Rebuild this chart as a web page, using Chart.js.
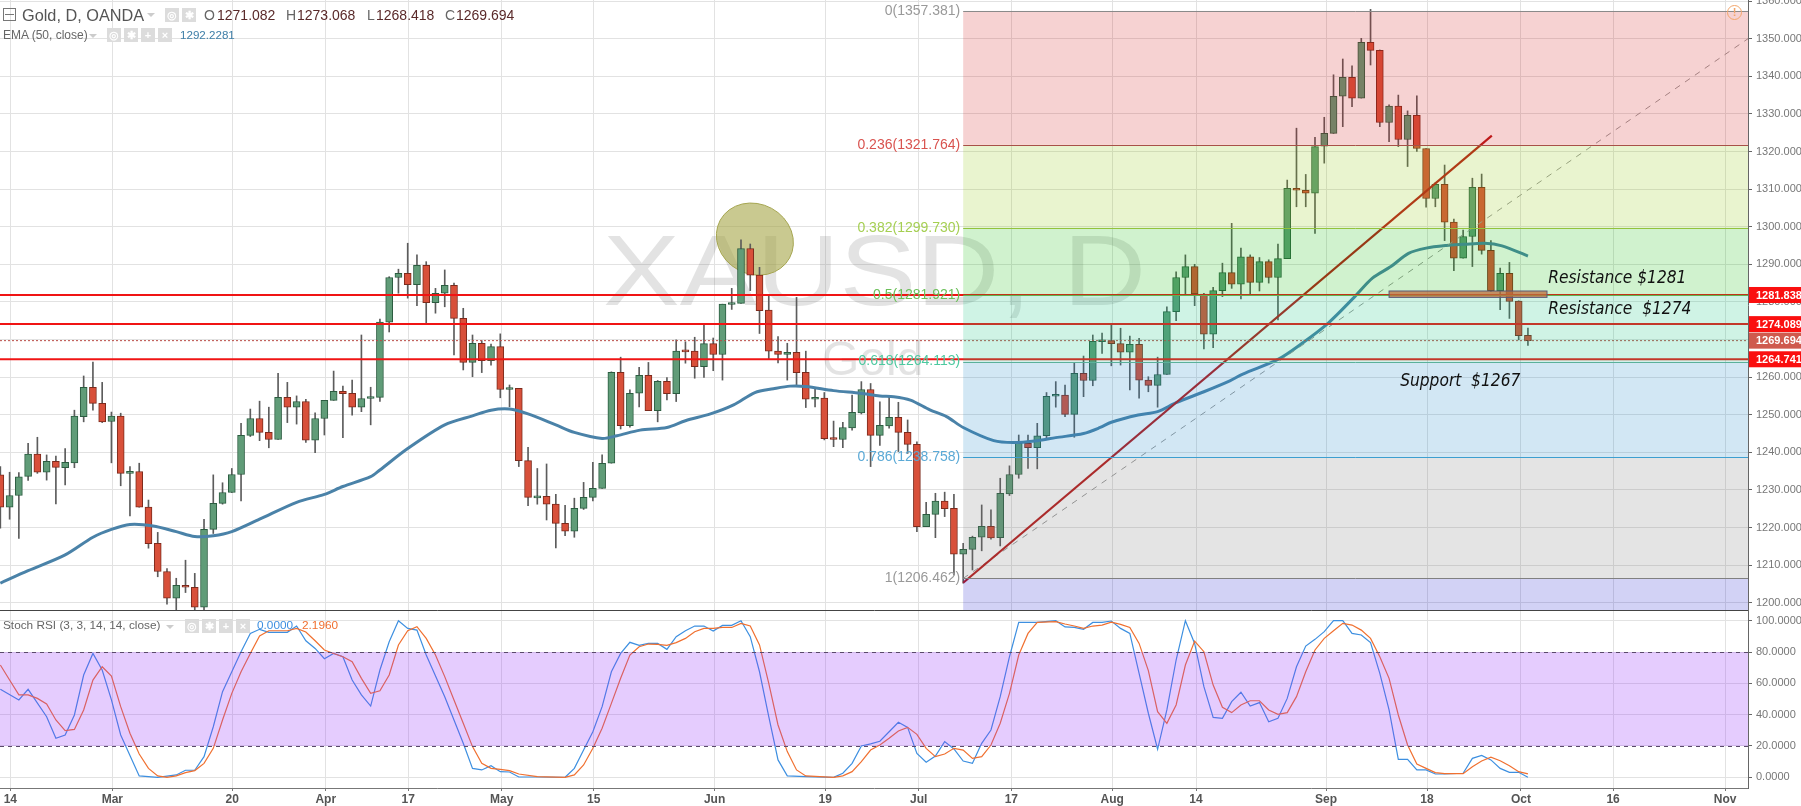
<!DOCTYPE html>
<html>
<head>
<meta charset="utf-8">
<title>Gold, D, OANDA</title>
<script src="https://cdn.jsdelivr.net/npm/chart.js@4"></script>
<style>
  body { margin: 0; background: #fff; width: 1801px; height: 806px; overflow: hidden; position: relative; font-family: "Liberation Sans", Arial, sans-serif; }
  canvas { position: absolute; left: 0; }
  #priceChart { top: 0; }
  #stochChart { top: 611px; }
  .t { position: absolute; white-space: nowrap; line-height: 1; }
  .ic { position: absolute; width: 14px; height: 14px; background: #dcdcdc; color: #fff; font-size: 11px; line-height: 14px; text-align: center; font-weight: bold; }
  .tri { position: absolute; width: 0; height: 0; border-left: 4px solid transparent; border-right: 4px solid transparent; border-top: 4px solid #ccc; }
</style>
</head>
<body>
<canvas id="priceChart" width="1801" height="611"></canvas>
<canvas id="stochChart" width="1801" height="195"></canvas>

<div class="t" style="left:3px;top:8px;width:11px;height:11px;border:1px solid #777;"></div>
<div class="t" style="left:5px;top:14px;width:9px;height:1px;background:#777;"></div>
<div class="t" style="left:22px;top:7px;font-size:16.3px;color:#555;">Gold, D, OANDA</div>
<div class="tri" style="left:147px;top:13px;"></div>
<div class="ic" style="left:165px;top:8px;">◎</div>
<div class="ic" style="left:182px;top:8px;">✱</div>
<div class="t" style="left:204px;top:8px;font-size:14px;color:#666;">O</div>
<div class="t" style="left:217px;top:8px;font-size:14px;color:#5a2a2a;">1271.082</div>
<div class="t" style="left:286px;top:8px;font-size:14px;color:#666;">H</div>
<div class="t" style="left:297px;top:8px;font-size:14px;color:#5a2a2a;">1273.068</div>
<div class="t" style="left:367px;top:8px;font-size:14px;color:#666;">L</div>
<div class="t" style="left:376px;top:8px;font-size:14px;color:#5a2a2a;">1268.418</div>
<div class="t" style="left:445px;top:8px;font-size:14px;color:#666;">C</div>
<div class="t" style="left:456px;top:8px;font-size:14px;color:#5a2a2a;">1269.694</div>

<div class="t" style="left:3px;top:29px;font-size:12px;color:#666;">EMA (50, close)</div>
<div class="tri" style="left:89px;top:34px;"></div>
<div class="ic" style="left:107px;top:28px;">◎</div>
<div class="ic" style="left:124px;top:28px;">✱</div>
<div class="ic" style="left:141px;top:28px;">+</div>
<div class="ic" style="left:158px;top:28px;">×</div>
<div class="t" style="left:180px;top:29px;font-size:11.6px;color:#3f7fa8;">1292.2281</div>

<div class="t" style="left:3px;top:620px;font-size:11.8px;color:#666;">Stoch RSI (3, 3, 14, 14, close)</div>
<div class="tri" style="left:166px;top:625px;"></div>
<div class="ic" style="left:185px;top:619px;">◎</div>
<div class="ic" style="left:202px;top:619px;">✱</div>
<div class="ic" style="left:219px;top:619px;">+</div>
<div class="ic" style="left:236px;top:619px;">×</div>
<div class="t" style="left:257px;top:620px;font-size:11.8px;color:#3d8fe0;">0.0000</div>
<div class="t" style="left:302px;top:620px;font-size:11.8px;color:#f07030;">2.1960</div>

<div class="t" style="left:1727px;top:5px;width:13px;height:13px;border:1.5px solid #f2a56a;border-radius:50%;color:#f2a56a;font-size:11px;line-height:13px;text-align:center;font-weight:bold;">!</div>

<script>
// daily bars, first one sits at bar index -1
const firstBar = -1;
const barOpen = [1234,1225.4,1228.5,1233.6,1239.5,1234.7,1237.6,1235.9,1237.2,1249.5,1257.3,1253,1248.2,1249.6,1234.4,1234.9,1225.4,1215.8,1208.3,1201.2,1204.6,1204.1,1198.8,1219.5,1226.4,1229.3,1234.1,1244.5,1249,1245.3,1243.4,1254.6,1252,1253.5,1243.2,1249,1253.8,1256.2,1255.7,1252,1254.3,1254.6,
  1274.6,1286.5,1287.6,1284.6,1289.7,1279.8,1282.3,1284.4,1275.6,1263.9,1269,1264.4,1268.1,1256.7,1257,1237.8,1227.9,1228.3,1226.2,1221.1,1219,1225.1,1228,1230.4,1237.1,1261.3,1247.1,1255.7,1260.5,1251.1,1258.9,1255.6,1266.9,1266.9,1262.8,1268.9,1266,1279.3,1279.6,1294.2,1287.1,1277.8,1266.9,1266,1266.6,1261.3,1254.1,1254.4,1243.8,1243.4,1246.5,1250.5,1256.7,1244.5,1247,1249.3,1245.3,1242.1,1220.2,1223.5,1227,1225.1,
  1212.9,1214.2,1217.4,1220.3,1217.3,1228.9,1234.1,1242.4,1241.2,1244.4,1254.9,1255.2,1250.1,1261,1259.1,1269.4,1269.7,1268.9,1266.6,1268.7,1259.2,1257.8,1260.7,1277.4,1286.5,1289.4,1282.1,1271.4,1283,1287.8,1284.7,1292,1285.2,1290.7,1286.5,1291.5,1310.2,1309.7,1308.9,1321.4,1324.8,1334.7,1339.7,1334.2,1349,1346.9,1327.7,1332.1,1323.2,1329.6,1320.8,1307.5,1311.3,1301.2,1291.6,1297.4,1310.5,1293.7,1283,1287.6,1280.2,1271.08];
const barClose = [1225.4,1228.5,1233.5,1239.5,1234.7,1237.6,1236,1237.3,1249.6,1257.3,1253,1248.1,1249.6,1234.4,1234.9,1225.4,1215.7,1208.3,1201.2,1204.6,1204.1,1198.8,1219.5,1226.4,1229.3,1234.1,1244.5,1249,1245.3,1243.4,1254.6,1252,1253.5,1243.2,1249,1253.8,1256.2,1255.6,1252,1254.3,1254.6,1274.6,
  1286.5,1287.6,1284.6,1289.7,1279.8,1282.3,1284.4,1275.6,1263.9,1269,1264.4,1268.1,1256.7,1257,1237.8,1228,1228.2,1226.2,1221.1,1219,1225.1,1228,1230.4,1237.1,1261.3,1247.1,1255.7,1260.5,1251.1,1258.9,1255.6,1266.9,1266.7,1262.8,1268.9,1266,1279.4,1279.6,1294.2,1287.1,1277.7,1266.9,1266,1266.6,1261.2,1254.1,1254.4,1243.6,1243.4,1246.6,1250.6,1256.7,1244.5,1247.2,1249.3,1245.3,1242.1,1220.2,1223.5,1227,1225,1212.9,
  1214.2,1217.4,1220.3,1217.2,1229.1,1234.1,1242.4,1241.2,1244.4,1254.9,1255.2,1250.1,1261,1259.1,1269.5,1269.7,1268.9,1266.6,1268.7,1259.2,1257.8,1260.7,1277.4,1286.5,1289.4,1282.1,1271.4,1283,1287.8,1284.7,1292,1285.2,1290.7,1286.5,1291.5,1310.2,1309.7,1308.9,1321.3,1324.8,1334.7,1339.7,1334.2,1349,1346.9,1327.7,1332.1,1323.2,1329.6,1320.8,1307.5,1311.3,1301.2,1291.6,1297.4,1310.5,1293.7,1283,1287.6,1280.1,1271,1269.69];
const barHigh = [1236.2,1234.7,1234.6,1242.4,1244,1239.3,1239,1241,1251.2,1260.3,1264,1258.6,1250.7,1250.4,1236.2,1237.1,1227.3,1218.7,1209.1,1206.5,1211.3,1207.8,1222.2,1234,1231.9,1235.7,1247.7,1251.5,1253.6,1252,1261,1258.6,1255,1254.1,1250.5,1253.8,1261.6,1257.6,1259.2,1271.2,1257.3,1275.4,
  1286.7,1288.7,1295.6,1292.5,1290.7,1283.6,1288.5,1285,1278.3,1271.2,1269.7,1268.8,1271.5,1257.9,1257,1241.3,1235.7,1236.9,1228.8,1225.9,1227.8,1232,1237.3,1239.3,1261.4,1265.3,1256.6,1262.6,1263.9,1259.1,1259.9,1269.9,1269.4,1270.6,1274.3,1270.4,1279.4,1283.6,1296.5,1295.4,1289.2,1281.6,1270.8,1269,1281.2,1266.9,1257.2,1255.9,1248.3,1248,1255.2,1258.8,1258.3,1253.4,1254.8,1253.3,1248.6,1242.8,1226.7,1229.1,1229.4,1228.8,
  1215.8,1217.7,1226,1224.7,1233.1,1236.4,1244.6,1244.6,1247.7,1255.9,1258.8,1257.9,1263.8,1265.6,1271.2,1271.7,1274.3,1273,1270.9,1270.3,1260.1,1265.3,1278.7,1288,1292.5,1290,1282.3,1283.9,1290.3,1300.9,1294.3,1292.5,1291.8,1291.2,1295.4,1312.4,1326.2,1313.9,1323.8,1329.1,1340.4,1344.6,1342.8,1350.1,1357.8,1347,1332.4,1335,1330.8,1334.8,1320.8,1311.7,1316.4,1302,1299.1,1312.9,1314,1296.3,1289,1290.5,1280.3,1273.07];
const barLow = [1219.8,1222.2,1217.1,1232.5,1234.4,1232.6,1226.3,1231.3,1235.9,1248.1,1251.2,1247.9,1237.2,1231.1,1223.1,1225.4,1214.5,1206.9,1199.6,1198.1,1202.7,1198.1,1198.1,1218.4,1226.2,1229.3,1227.1,1244.2,1243.1,1241.2,1243.4,1247.9,1247.5,1242.6,1239.9,1244.6,1253.8,1243.9,1249.9,1250.8,1247.3,1253.5,
  1272,1282.3,1281,1279,1274.1,1277,1278.7,1265.9,1261.9,1260.1,1261.2,1263.2,1254.5,1252.1,1236.2,1225.8,1226.2,1222,1214.6,1217.8,1217.4,1224.8,1227.1,1230.4,1237.1,1246.2,1246.7,1252.1,1251.1,1248.1,1253.9,1253.5,1263.7,1259.7,1259.9,1261.7,1259.2,1278,1279.6,1283,1271.6,1264.8,1263.8,1259.2,1257.6,1251.9,1252.1,1243.3,1241.5,1241.2,1245.9,1250.2,1236.2,1241.8,1246.4,1240.2,1239.7,1218.9,1220.2,1217.3,1222.9,1207.4,
  1205.2,1208.7,1213.8,1216.9,1215.1,1228.5,1233.1,1235.7,1235.6,1243.7,1252,1249.5,1244,1254.8,1257.7,1266.3,1263,1263.2,1256.6,1254.4,1256.1,1252,1260.7,1275,1281.8,1279,1267.5,1267.8,1281.4,1283.6,1280.8,1282.1,1282.9,1285,1275.2,1291.5,1305.3,1305.3,1298.2,1316.9,1324.8,1326.6,1331.9,1334.2,1343,1326.6,1322.6,1321.3,1316,1320,1305.2,1305.3,1296.3,1288.3,1291.6,1289.4,1292.7,1282.7,1277.9,1275.6,1269.9,1268.42];

const emaBars = [-1,2,6,9,11,13,15.5,18,20,22,24,27,31,34,36,39,40,43,47,50,52,54,56,59,61,64,65.6,68.1,71,73,75.7,78.2,80.5,82.5,84.3,86,89,91.9,94,95.5,97.3,99.4,101.2,103,106.3,108.4,111,113,116,117.8,119,121.9,124,126,129,131.8,133.2,137,139.5,142.4,145.3,147.2,149.2,151.1,153,155.2,157.1,159.3,161.2,164];
const emaValues = [1205.2,1208.5,1212.7,1217.4,1219.5,1220.8,1220.4,1218.9,1217.6,1217.8,1218.9,1222.2,1226.7,1228.8,1230.9,1233.5,1235.3,1241,1247.3,1249.7,1251.2,1251.5,1250.2,1247.3,1245.3,1243.7,1244.4,1245.9,1246.6,1248.4,1250.2,1252.6,1255.9,1256.9,1257.6,1257.5,1256.4,1255.7,1255,1254.8,1253.9,1251.3,1249.5,1246.6,1243.1,1242.6,1243.1,1243.9,1245,1246.6,1248,1249.9,1250.8,1253.2,1256.1,1259,1260.8,1264.7,1268.8,1274.3,1281.4,1286.3,1289.4,1292.9,1294.3,1295,1295.3,1295.6,1294.9,1292.2];

const kBars = [-1,1,2,4,5,6,7,8,9,10,11,12,14,16,18,19,20,21,22,23,24,25,26,27,28,30,31,32,33,34,35,36,37,38,39,40,41,42,43,44,45,47,49,50,51,52,53,54,55,57,60,61,62,63,64,65,66,67,68,69,70,71,72,73,74,75,76,77,78,79,80,81,82,83,84,86,89,90,91,92,93,94,95,96,
  97,98,99,100,101,102,103,104,105,106,107,108,109,111,113,114,115,116,117,118,119,120,121,122,123,124,125,126,127,128,129,130,131,132,133,134,135,136,137,138,139,140,141,142,143,144,145,146,147,148,149,150,151,152,153,154,155,157,158,159,160,161,162,163,164];
const kValues = [56.2,49.4,56.2,38.7,24.9,27,39.8,65.3,79.1,68.5,49.4,27,0.9,0,1.5,4.5,4.5,13.2,32.3,54.7,67.4,80.2,91.9,94.5,92.6,92.6,96.6,87.2,82.3,75.7,79.1,77,62.1,52.6,45.5,68.5,86.6,100,95.1,94,78.1,51.5,21.7,5.7,4.7,7.4,3.6,3.4,0.2,0.2,0,5.7,17.4,29.1,45.1,67.4,79.1,86.2,84.3,85.5,85.5,81.7,89.8,93.6,96.6,96.6,93.4,97,97,100,89.8,67.4,38.7,11.1,0.9,0.4,0,2.6,8.9,20,21.3,23,29.1,35.1,
  31.9,15.3,9.6,13.6,22.8,18.1,10.4,8.9,21.7,30.2,51.5,77,98.9,98.9,100,96,95.7,94.5,98.9,98.9,99.8,95.1,91.9,66.4,40.9,17.9,43,74.9,100,85.5,57.9,38.3,37.7,48.3,54.3,45.5,47.7,35.5,37.7,50.4,70.6,83.8,88.1,93,100,100,91.9,90.9,86,66.4,43,11.5,11.5,4.7,4.7,2.1,2.1,2.6,12.1,14,11.1,5.7,3.2,3.2,0];
const dBars = [-1,0,1,2,3,4,5,6,7,8,9,10,11,12,13,14,15,16,17,18,19,20,21,22,23,24,25,26,27,28,30,31,32,33,34,35,36,37,38,39,40,41,42,43,44,45,46,47,48,49,50,51,52,53,54,55,57,60,61,62,63,64,65,66,67,68,69,70,71,72,73,74,75,76,77,78,79,80,81,82,83,84,85,86,89,90,91,92,93,94,95,96,
  97,98,99,100,101,102,103,104,105,106,107,108,109,110,111,113,114,115,116,117,118,119,120,121,122,123,124,125,126,127,128,129,130,131,132,133,134,135,136,137,138,139,140,141,142,143,144,145,146,147,148,149,150,151,152,153,154,155,157,158,159,160,161,162,163,164];
const dValues = [71.7,62.1,52.6,52.6,50.4,46.8,36.6,29.8,30.6,43,62.1,70.6,64.7,45.1,28.1,14.9,5.7,0.9,0,0.9,3,4.3,8.9,18.5,36.6,53.6,67.4,79.1,90.2,93.6,93.6,95.1,92.8,87.2,81.3,79.1,77,73.8,63.2,53.6,55.3,65.3,84.5,93.6,96.2,88.7,78.1,64.3,49.4,34.5,19.6,8.9,5.7,5.1,4.3,2.1,0.4,0,1.5,7.9,18.5,31.3,47.2,63.2,78.1,83.4,85.1,84.9,84.3,86,88.7,93,95.1,95.1,95.7,95.7,98.3,96.6,84.5,60,33.4,16.4,4.7,0.9,0,0.9,3.6,10,17.4,20.6,24.9,29.6,
  31.9,27.4,18.5,13.2,14.9,18.5,17.4,12.1,13.2,20.6,34.5,53.6,78.1,91.9,98.9,99.4,97.9,96.6,95.1,96.6,97.2,99.1,97.7,95.7,85.5,68.1,41.9,34.5,46.2,71.7,87,80.2,58.9,44.7,41.3,46.2,48.9,48.9,43,40.2,41.3,51.5,67.4,81.3,88.7,93.6,98.3,97.2,94,88.7,77,63.2,39.8,20.6,8.5,5.7,3,2.3,2.3,6.8,10.4,12.8,10.6,7.4,3.6,2.2];

const xTickBars = [0.08,11.1,24.05,34.15,43.06,53.15,63.1,76.15,88.1,98.2,108.2,119.1,128.15,142.2,153.1,163.25,173.2,185.3];
const xTickLabels = ["14","Mar","20","Apr","17","May","15","Jun","19","Jul","17","Aug","14","Sep","18","Oct","16","Nov"];
const priceTicks = [1200,1210,1220,1230,1240,1250,1260,1270,1280,1290,1300,1310,1320,1330,1340,1350,1360];
const stochTicks = [0,20,40,60,80,100];

// fibonacci retracement
const fibRatios = ["0","0.236","0.382","0.5","0.618","0.786","1"];
const fibPrices = [1357.381,1321.764,1299.73,1281.921,1264.113,1238.758,1206.462];
const fibStartBar = 103;
const trendBars = [103,160.1];
const trendPrices = [1205.3,1324.2];
const fibDiagBars = [103,187.77];
const fibDiagPrices = [1206.462,1350];

const hLevels = [1281.838,1274.089,1264.741];
const lastPrice = 1269.694;
const stochBand = [20,80];
const circleAt = [80.5,1296.7];
const boxBars = [149,166.06];
const boxPrices = [1282.9,1281.2];
const notes = [["Resistance $1281",166.2,1286.2],["Resistance  $1274",166.2,1277.9],["Support  $1267",150.2,1258.9]];

const xMin = -1.037, xMax = 187.77;
const font = '"Liberation Sans", Arial, sans-serif';
const bandFill = ["rgba(210,30,30,.2)","rgba(145,200,15,.2)","rgba(20,190,10,.2)","rgba(15,195,125,.2)","rgba(30,135,200,.2)","rgba(120,120,120,.2)","rgba(30,30,205,.2)"];
const fibLine = ["#8a8a8a","#a85048","#93c23c","#63b04e","#5bb09a","#3d9fd0","#808080"];
const fibText = ["#999","#d9534f","#a5cf52","#6cc05a","#4ec9a0","#5aa9d6","#999"];

function xyPairs(xs, ys) { return xs.map((x, i) => ({ x, y: ys[i] })); }
const barPoints = (a, b) => a.map((v, i) => ({ x: firstBar + i, y: [v, b[i]] }));
const isUp = barClose.map((c, i) => c >= barOpen[i]);

const hLine = (y, extra) => Object.assign({
  type: "line", data: [{ x: xMin, y }, { x: xMax, y }], borderColor: "#f01414", borderWidth: 2, pointRadius: 0, order: 1
}, extra);

function xAxis(showLabels) {
  return {
    type: "linear", min: xMin, max: xMax, offset: false,
    afterBuildTicks: s => { s.ticks = xTickBars.map(value => ({ value })); },
    afterFit: s => { s.height = showLabels ? 18 : 0; s.paddingLeft = 0; s.paddingRight = 0; },
    grid: { color: "#e2e2e2", offset: false, drawTicks: showLabels, tickLength: 3, tickColor: "#777" },
    border: { display: true, color: showLabels ? "#777" : "#444", width: 1 },
    ticks: {
      display: showLabels, autoSkip: false, maxRotation: 0, padding: 1, color: "#555",
      font: { family: font, size: 12, weight: "bold" },
      callback: v => xTickLabels[xTickBars.indexOf(v)]
    }
  };
}

function yAxis(min, max, list, digits) {
  return {
    position: "right", min, max,
    afterBuildTicks: s => { s.ticks = list.map(value => ({ value })); },
    afterFit: s => { s.width = 53; s.paddingTop = 0; s.paddingBottom = 0; },
    grid: { color: "#e2e2e2", tickColor: "#666", tickLength: 4 },
    border: { display: true, color: "#666" },
    ticks: { padding: 4, color: "#777", font: { family: font, size: 11 }, callback: v => v.toFixed(digits) }
  };
}

const fibPlugin = {
  id: "fib",
  beforeDatasetsDraw(chart) {
    const { ctx, scales: { x, y } } = chart;
    ctx.save();
    ctx.textBaseline = "alphabetic";
    ctx.fillStyle = "rgba(90,90,90,.17)";
    ctx.save();
    ctx.translate(603, 305);
    ctx.scale(1.15, 1);
    ctx.font = `100px ${font}`;
    ctx.fillText("XAUSD, D", 0, 0);
    ctx.restore();
    ctx.font = `48px ${font}`;
    ctx.fillText("Gold", 822, 375);
    // highlight circle on the June top
    ctx.beginPath();
    ctx.ellipse(x.getPixelForValue(circleAt[0]), y.getPixelForValue(circleAt[1]), 39.5, 35, 0.5, 0, Math.PI * 2);
    ctx.fillStyle = "rgba(165,165,70,.6)";
    ctx.strokeStyle = "#a5a550";
    ctx.fill();
    ctx.stroke();
    ctx.restore();
  },
  afterDatasetsDraw(chart) {
    const { ctx, chartArea, scales: { x, y } } = chart;
    const left = x.getPixelForValue(fibStartBar);
    ctx.save();
    // the bands lie over the candles, that is why the bodies change hue
    fibPrices.forEach((p, i) => {
      const top = y.getPixelForValue(p);
      const bottom = i + 1 < fibPrices.length ? y.getPixelForValue(fibPrices[i + 1]) : chartArea.bottom;
      ctx.fillStyle = bandFill[i];
      ctx.fillRect(left, top, chartArea.right - left, bottom - top);
    });
    ctx.font = `14px ${font}`;
    ctx.textAlign = "right";
    ctx.textBaseline = "middle";
    fibPrices.forEach((p, i) => {
      const py = y.getPixelForValue(p);
      ctx.strokeStyle = fibLine[i];
      ctx.lineWidth = 1;
      ctx.beginPath();
      ctx.moveTo(left, Math.round(py) + 0.5);
      ctx.lineTo(chartArea.right, Math.round(py) + 0.5);
      ctx.stroke();
      ctx.fillStyle = fibText[i];
      ctx.fillText(`${fibRatios[i]}(${p.toFixed(3)})`, left - 3, py);
    });
    // resistance box
    const bx = x.getPixelForValue(boxBars[0]), bw = x.getPixelForValue(boxBars[1]) - bx;
    const by = y.getPixelForValue(boxPrices[0]), bh = y.getPixelForValue(boxPrices[1]) - by;
    ctx.fillStyle = "rgba(190,110,60,.75)";
    ctx.fillRect(bx, by, bw, bh);
    ctx.strokeStyle = "#5a5a78";
    ctx.strokeRect(bx, by, bw, bh);
    // notes
    ctx.font = `italic 17.2px "DejaVu Sans Condensed", "DejaVu Sans", sans-serif`;
    ctx.textAlign = "left";
    ctx.fillStyle = "#111";
    notes.forEach(([text, bar, price]) => ctx.fillText(text, x.getPixelForValue(bar), y.getPixelForValue(price)));
    // price tags on the axis
    ctx.font = `bold 11px ${font}`;
    const tags = hLevels.concat(lastPrice);
    tags.forEach(p => {
      const py = y.getPixelForValue(p);
      ctx.fillStyle = p === lastPrice ? "#cf5a4e" : "#fa0f0f";
      ctx.fillRect(chartArea.right + 1, py - 8, 60, 16);
      ctx.fillStyle = "#fff";
      ctx.fillText(p.toFixed(3), chartArea.right + 8, py + 0.5);
    });
    ctx.restore();
  }
};

new Chart(document.getElementById("priceChart"), {
  type: "bar",
  data: {
    datasets: [
      hLine(hLevels[0]), hLine(hLevels[1]), hLine(hLevels[2]),
      hLine(lastPrice, { borderColor: "#b84a44", borderWidth: 1, borderDash: [2, 2] }),
      { type: "line", data: xyPairs(trendBars, trendPrices), borderColor: "#b81818", borderWidth: 2.2, pointRadius: 0, order: 2 },
      { type: "line", data: xyPairs(fibDiagBars, fibDiagPrices), borderColor: "#999", borderWidth: 1, borderDash: [6, 6], pointRadius: 0, order: 3 },
      { type: "line", data: xyPairs(emaBars, emaValues), borderColor: "#4a82a8", borderWidth: 3, pointRadius: 0, tension: 0.3, order: 4 },
      {
        data: barPoints(barOpen, barClose), grouped: false, barThickness: 7, minBarLength: 2, borderSkipped: false, borderWidth: 1, order: 5,
        backgroundColor: isUp.map(u => u ? "#609c78" : "#d8503a"),
        borderColor: isUp.map(u => u ? "#2b5c40" : "#7c2a1c")
      },
      { data: barPoints(barLow, barHigh), grouped: false, barThickness: 1, backgroundColor: "#5c5c5c", order: 6 }
    ]
  },
  options: {
    responsive: false, animation: false, layout: { autoPadding: false, padding: { bottom: 1 } },
    plugins: { legend: { display: false }, tooltip: { enabled: false } },
    scales: { x: xAxis(false), y: yAxis(1198.06, 1360.29, priceTicks, 3) }
  },
  plugins: [fibPlugin]
});

const stochPlugin = {
  id: "stochBand",
  afterDatasetsDraw(chart) {
    const { ctx, chartArea, scales: { y } } = chart;
    const low = y.getPixelForValue(stochBand[0]), high = y.getPixelForValue(stochBand[1]);
    ctx.save();
    ctx.fillStyle = "rgba(150,50,250,.25)";
    ctx.fillRect(chartArea.left, high, chartArea.width, low - high);
    ctx.strokeStyle = "#5a4a6a";
    ctx.lineWidth = 1;
    ctx.setLineDash([4, 4]);
    [low, high].forEach(py => {
      ctx.beginPath();
      ctx.moveTo(chartArea.left, Math.round(py) + 0.5);
      ctx.lineTo(chartArea.right, Math.round(py) + 0.5);
      ctx.stroke();
    });
    ctx.restore();
  }
};

new Chart(document.getElementById("stochChart"), {
  type: "line",
  data: {
    datasets: [
      { data: xyPairs(dBars, dValues), borderColor: "#f07030", borderWidth: 1.2, pointRadius: 0 },
      { data: xyPairs(kBars, kValues), borderColor: "#3d8fe0", borderWidth: 1.2, pointRadius: 0 }
    ]
  },
  options: {
    responsive: false, animation: false, layout: { autoPadding: false },
    plugins: { legend: { display: false }, tooltip: { enabled: false } },
    scales: { x: xAxis(true), y: yAxis(-6.83, 106.2, stochTicks, 4) }
  },
  plugins: [stochPlugin]
});
</script>
</body>
</html>
